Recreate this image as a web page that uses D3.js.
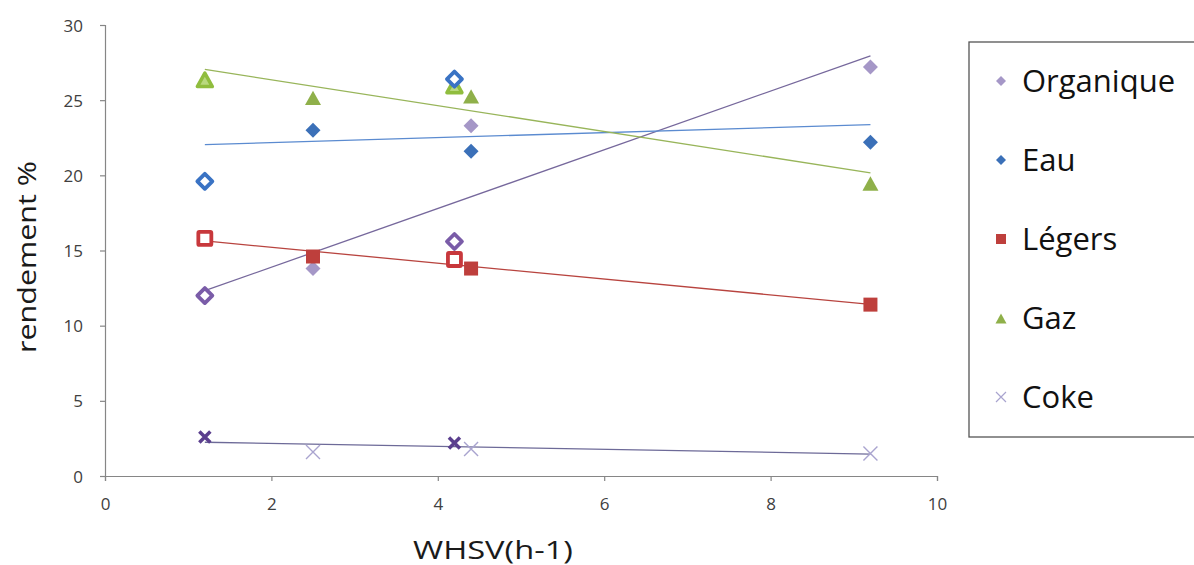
<!DOCTYPE html>
<html><head><meta charset="utf-8">
<script src="https://cdn.jsdelivr.net/npm/d3@7"></script>
<style>
html,body{margin:0;padding:0;background:#fff;}
svg{display:block;font-family:"Open Sans","Noto Sans",sans-serif;}
</style></head>
<body>
<svg id="c" width="1194" height="565"></svg>
<script>
// ---- data ----
const whsv      = [1.2, 2.5, 4.2, 4.4, 9.2];
const runType   = ["ref", "new", "ref", "new", "new"];
const organique = [12.0, 13.8, 15.6, 23.3, 27.2];
const eau       = [19.6, 23.0, 26.4, 21.6, 22.2];
const legers    = [15.8, 14.6, 14.4, 13.8, 11.4];
const gaz       = [26.3, 25.1, 25.9, 25.2, 19.4];
const coke      = [2.6, 1.6, 2.2, 1.8, 1.5];
const seriesNames = ["Organique", "Eau", "Légers", "Gaz", "Coke"];
const xTicks = [0, 2, 4, 6, 8, 10];
const yTicks = [0, 5, 10, 15, 20, 25, 30];

const seriesValues = [organique, eau, legers, gaz, coke];
const styles = [
  {shape:"diamond",  fill:"#a597c7", hollow:"#7a5ca8", line:"#76689c"},
  {shape:"diamond",  fill:"#3b70b8", hollow:"#3a73c4", line:"#5b8bd0"},
  {shape:"square",   fill:"#be3f3c", hollow:"#c8383c", line:"#b8443f"},
  {shape:"triangle", fill:"#8fb04a", hollow:"#90bd3e", line:"#98b55a"},
  {shape:"cross",    fill:"#a9a4cf", hollow:"#5b3f8e", line:"#6d6a98"}
];

const svg = d3.select("#c");
const x = d3.scaleLinear().domain([0, 10]).range([105, 937]);
const y = d3.scaleLinear().domain([0, 30]).range([476, 25]);

// axes
const axisColor = "#868686";
const gx = svg.append("g").attr("transform", `translate(0,${y(0)})`)
  .call(d3.axisBottom(x).tickValues(xTicks).tickSize(5).tickPadding(17).tickFormat(d3.format("d")));
const gy = svg.append("g").attr("transform", `translate(${x(0)},0)`)
  .call(d3.axisLeft(y).tickValues(yTicks).tickSize(5).tickPadding(17).tickFormat(d3.format("d")));
[gx, gy].forEach(g => {
  g.select(".domain").attr("stroke", axisColor).attr("stroke-width", 1.2);
  g.selectAll(".tick line").attr("stroke", axisColor).attr("stroke-width", 1.2);
  g.selectAll(".tick text").attr("fill", "#404040").style("font-size", "17px")
    .style("font-family", "'Open Sans', sans-serif");
});
gy.selectAll(".tick text").attr("dy", "0.36em");

svg.append("text").attr("x", 493).attr("y", 559).attr("text-anchor", "middle")
  .style("font-size", "25px").attr("fill", "#1a1a1a")
  .attr("textLength", 160).attr("lengthAdjust", "spacingAndGlyphs").text("WHSV(h-1)");
svg.append("text").attr("transform", "translate(36,257) rotate(-90)").attr("text-anchor", "middle")
  .style("font-size", "25px").attr("fill", "#1a1a1a")
  .attr("textLength", 192).attr("lengthAdjust", "spacingAndGlyphs").text("rendement %");

// trendlines (least squares fit)
function fit(xs, ys) {
  const mx = d3.mean(xs), my = d3.mean(ys);
  let sxy = 0, sxx = 0;
  xs.forEach((v, i) => { sxy += (v - mx) * (ys[i] - my); sxx += (v - mx) * (v - mx); });
  const b = sxy / sxx, a = my - b * mx;
  return v => a + b * v;
}
const xExt = d3.extent(whsv);
seriesValues.forEach((vals, si) => {
  const f = fit(whsv, vals);
  svg.append("line")
    .attr("x1", x(xExt[0])).attr("y1", y(f(xExt[0])))
    .attr("x2", x(xExt[1])).attr("y2", y(f(xExt[1])))
    .attr("stroke", styles[si].line).attr("stroke-width", 1.3);
});

// marker drawing
function marker(g, shape, cx, cy, opts) {
  const s = opts.size;
  if (shape === "diamond") {
    g.append("path").attr("d", `M${cx},${cy - s}L${cx + s},${cy}L${cx},${cy + s}L${cx - s},${cy}Z`)
      .attr("fill", opts.fill).attr("stroke", opts.stroke || "none").attr("stroke-width", opts.sw || 0)
      .attr("stroke-linejoin", "round");
  } else if (shape === "square") {
    g.append("rect").attr("x", cx - s).attr("y", cy - s).attr("width", 2 * s).attr("height", 2 * s)
      .attr("fill", opts.fill).attr("stroke", opts.stroke || "none").attr("stroke-width", opts.sw || 0)
      .attr("rx", opts.rx || 0);
  } else if (shape === "triangle") {
    g.append("path").attr("d", `M${cx},${cy - s}L${cx + s},${cy + s * 0.8}L${cx - s},${cy + s * 0.8}Z`)
      .attr("fill", opts.fill).attr("stroke", opts.stroke || "none").attr("stroke-width", opts.sw || 0)
      .attr("stroke-linejoin", "round");
  } else if (shape === "cross") {
    g.append("path").attr("d", `M${cx - s},${cy - s}L${cx + s},${cy + s}M${cx - s},${cy + s}L${cx + s},${cy - s}`)
      .attr("fill", "none").attr("stroke", opts.stroke).attr("stroke-width", opts.sw);
  }
}

const gm = svg.append("g");
// filled ("new") points first
seriesValues.forEach((vals, si) => {
  const st = styles[si];
  whsv.forEach((xv, i) => {
    if (runType[i] !== "new") return;
    const cx = x(xv), cy = y(vals[i]);
    if (st.shape === "cross") marker(gm, "cross", cx, cy, {size: 7, stroke: st.fill, sw: 1.4});
    else if (st.shape === "triangle") marker(gm, "triangle", cx, cy, {size: 8, fill: st.fill});
    else if (st.shape === "square") marker(gm, "square", cx, cy, {size: 7, fill: st.fill});
    else marker(gm, "diamond", cx, cy, {size: 7.5, fill: st.fill});
  });
});
// hollow ("ref") points, drawn on top
const hollowOrder = [3, 0, 2, 1, 4];
hollowOrder.forEach(si => {
  const st = styles[si], vals = seriesValues[si];
  whsv.forEach((xv, i) => {
    if (runType[i] !== "ref") return;
    const cx = x(xv), cy = y(vals[i]);
    if (st.shape === "cross") marker(gm, "cross", cx, cy, {size: 5.5, stroke: st.hollow, sw: 3.5});
    else if (st.shape === "triangle") marker(gm, "triangle", cx, cy, {size: 7.5, fill: "#b9d97f", stroke: st.hollow, sw: 3.5});
    else if (st.shape === "square") marker(gm, "square", cx, cy, {size: 6.5, fill: "#fff", stroke: st.hollow, sw: 3.8, rx: 1});
    else marker(gm, "diamond", cx, cy, {size: 7.5, fill: "#fff", stroke: st.hollow, sw: 3.8});
  });
});

// legend
const lg = svg.append("g");
lg.append("rect").attr("x", 969).attr("y", 42).attr("width", 240).attr("height", 395)
  .attr("fill", "#fff").attr("stroke", "#555").attr("stroke-width", 1.3);
seriesNames.forEach((name, si) => {
  const ly = 81 + si * 79, st = styles[si];
  const cx = 1001;
  if (st.shape === "cross") marker(lg, "cross", cx, ly, {size: 5, stroke: st.fill, sw: 1.2});
  else if (st.shape === "triangle") marker(lg, "triangle", cx, ly + 1, {size: 5.5, fill: st.fill});
  else if (st.shape === "square") marker(lg, "square", cx, ly, {size: 5, fill: st.fill});
  else marker(lg, "diamond", cx, ly, {size: 5, fill: st.fill});
  lg.append("text").attr("x", 1022).attr("y", ly).attr("dy", "0.36em")
    .style("font-size", "31px").attr("fill", "#111").text(name);
});
</script>
</body></html>
